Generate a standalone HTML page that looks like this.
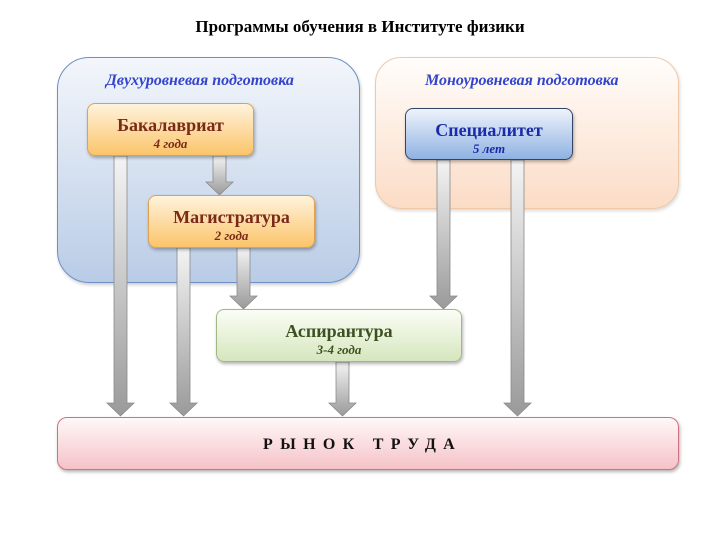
<!DOCTYPE html>
<html><head><meta charset="utf-8"><style>
body{margin:0;width:720px;height:540px;background:#fff;position:relative;overflow:hidden;font-family:"Liberation Serif",serif}
.a{position:absolute;box-sizing:border-box}
.t{position:absolute;left:0;width:720px;top:17px;text-align:center;font-weight:bold;font-size:17px}
.box{position:absolute;box-sizing:border-box;border-radius:8px;text-align:center;box-shadow:1px 2px 3px rgba(0,0,0,.3)}
.h{font-weight:bold;font-size:18px;margin-top:11px;line-height:21px}
.s{font-weight:bold;font-style:italic;font-size:13px;line-height:14px;margin-top:1px}
.lbl{position:absolute;font-weight:bold;font-style:italic;font-size:16px;color:#3344cc}
</style></head><body>
<div class="t">Программы обучения в Институте физики</div>
<div class="a" style="left:57px;top:57px;width:303px;height:226px;border-radius:32px;border:1px solid #6e8fc9;background:linear-gradient(#f3f6fb,#b9cce6);box-shadow:1px 2px 3px rgba(0,0,0,.2)"></div>
<div class="a" style="left:375px;top:57px;width:304px;height:152px;border-radius:26px;border:1px solid #f0c8a8;background:linear-gradient(#fffdfb,#fbdcc6);box-shadow:1px 2px 3px rgba(0,0,0,.15)"></div>
<div class="lbl" style="left:106px;top:72px">Двухуровневая подготовка</div>
<div class="lbl" style="left:425px;top:72px">Моноуровневая подготовка</div>
<svg class="a" style="left:0;top:0" width="720" height="540">
<defs><linearGradient id="g" x1="0" y1="0" x2="0" y2="1"><stop offset="0" stop-color="#f4f4f4"/><stop offset="1" stop-color="#9a9a9a"/></linearGradient></defs>
<g fill="url(#g)" stroke="#8a8a8a" stroke-width="0.8">
<path d="M114 156H127V403H134L120.5 416L107 403H114Z"/>
<path d="M213 156H226V182H233L219.5 195L206 182H213Z"/>
<path d="M177 248H190V403H197L183.5 416L170 403H177Z"/>
<path d="M237 248H250V296H257L243.5 309L230 296H237Z"/>
<path d="M437 160H450V296H457L443.5 309L430 296H437Z"/>
<path d="M511 160H524V403H531L517.5 416L504 403H511Z"/>
<path d="M336 362H349V403H356L342.5 416L329 403H336Z"/>
</g></svg>
<div class="box" style="left:87px;top:103px;width:167px;height:53px;border:1px solid #e0a050;background:linear-gradient(#fff3dc,#fbc46a);color:#7a2a18"><div class="h">Бакалавриат</div><div class="s">4 года</div></div>
<div class="box" style="left:148px;top:195px;width:167px;height:53px;border:1px solid #e0a050;background:linear-gradient(#fff3dc,#fbc46a);color:#7a2a18"><div class="h">Магистратура</div><div class="s">2 года</div></div>
<div class="box" style="left:405px;top:108px;width:168px;height:52px;border:1px solid #334466;background:linear-gradient(#eef3fb,#8fb2e2);color:#1a2aa8"><div class="h">Специалитет</div><div class="s">5 лет</div></div>
<div class="box" style="left:216px;top:309px;width:246px;height:53px;border:1px solid #9fb884;background:linear-gradient(#fbfdf6,#d6e6be);color:#3b5220"><div class="h">Аспирантура</div><div class="s">3-4 года</div></div>
<div class="box" style="left:57px;top:417px;width:622px;height:53px;border:1px solid #d07080;border-radius:10px;background:linear-gradient(#fff8f8,#f5c2c8)"><div style="position:absolute;left:205px;top:18px;font-weight:bold;font-size:16px;letter-spacing:7.3px;color:#111">РЫНОК ТРУДА</div></div>
</body></html>
